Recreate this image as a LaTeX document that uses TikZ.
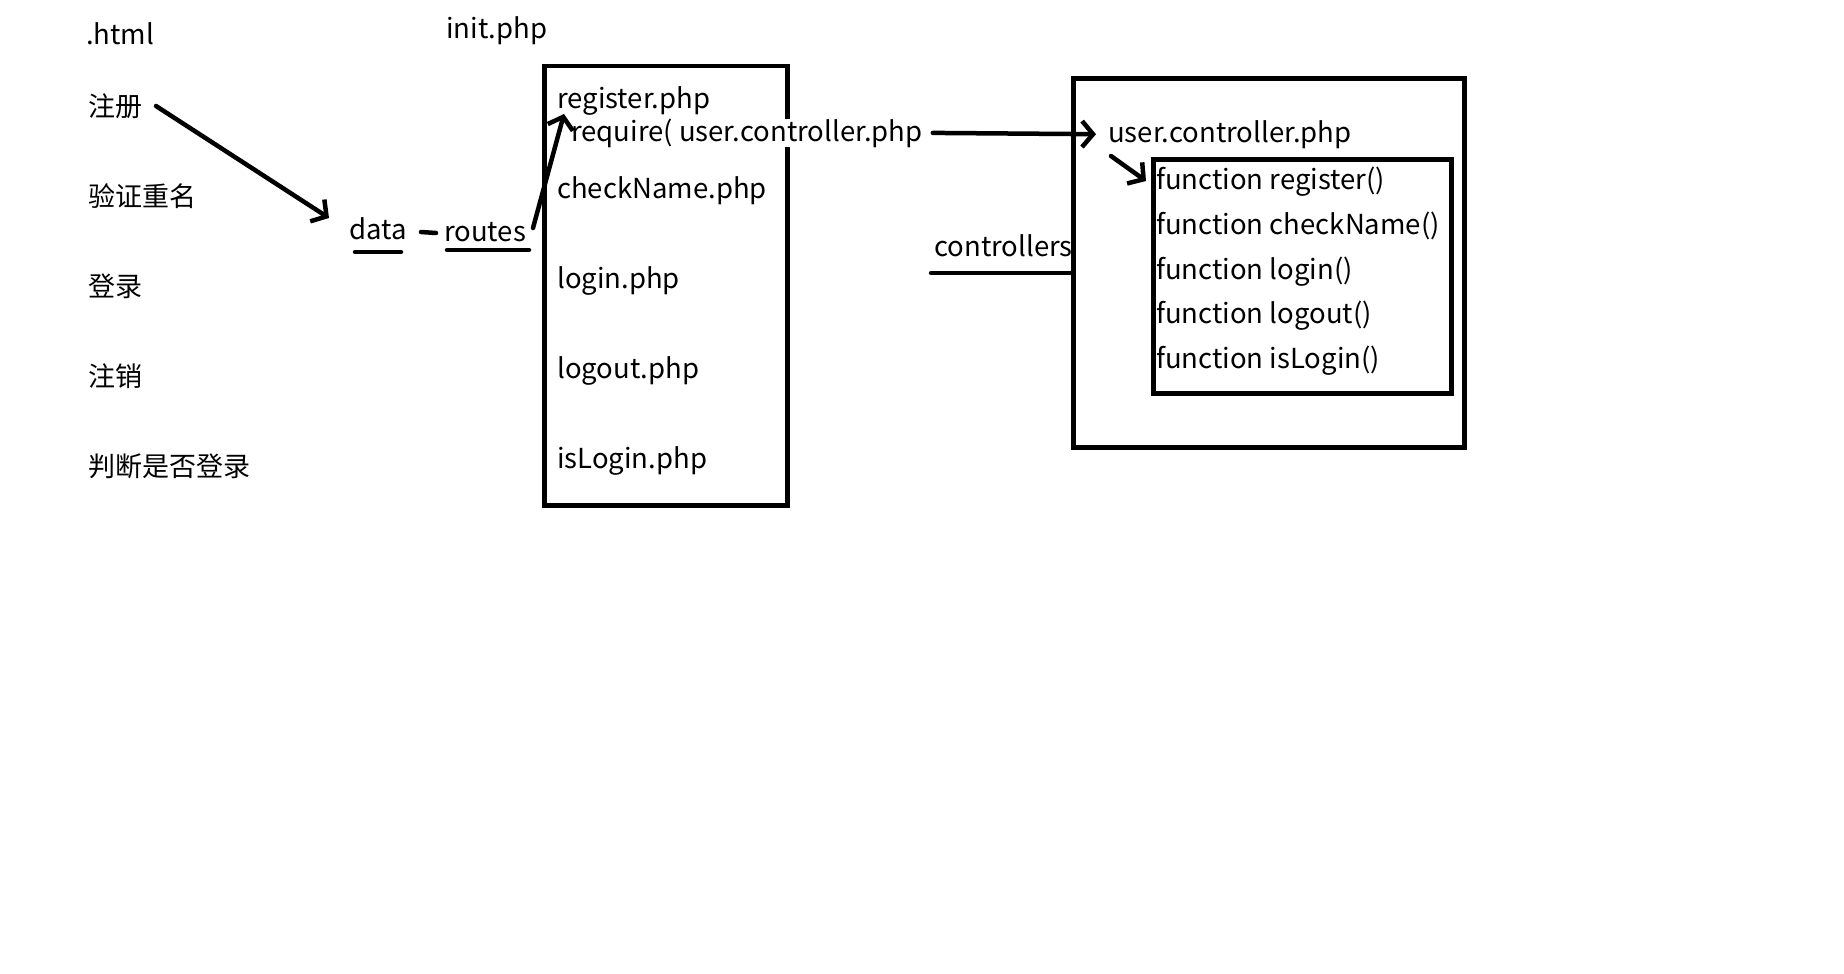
\documentclass[tikz,border=0pt]{standalone}
\usepackage{fontspec}
\setmainfont{Noto Sans CJK SC}
\usetikzlibrary{arrows.meta}
\begin{document}
\begin{tikzpicture}[x=1pt,y=-1pt,
  lbl/.style={anchor=base west, inner sep=0pt, font=\fontsize{27.5}{32}\selectfont},
  zh/.style={anchor=west, inner sep=0pt, font=\fontsize{27}{31}\selectfont},
  box/.style={draw, line width=4.5pt, inner sep=0pt},
  ln/.style={line width=4.5pt, line cap=round},
  arr/.style={ln, -{Straight Barb[length=11pt,width=26pt,line width=4.5pt]}}]
\useasboundingbox[fill=white] (0,0) rectangle (1844,974);

% left column
\node[lbl] (html) at (86,45) {.html};
\node[zh] (zc) at (88,106) {注册};
\node[zh] (yz) at (88,196) {验证重名};
\node[zh] (dl) at (88,286) {登录};
\node[zh] (zx) at (88,376) {注销};
\node[zh] (pd) at (88,466) {判断是否登录};

% data / routes
\node[lbl] (data) at (349,239) {data};
\node[lbl] (routes) at (444,241) {routes};
\coordinate (a1s) at (156,106);
\coordinate (a1e) at (329,218);
\draw[arr] (a1s) -- (a1e);
\coordinate (du1) at (355,252);
\coordinate (du2) at (401,252);
\draw[ln] (du1) -- (du2);
\coordinate (dd1) at (421,232);
\coordinate (dd2) at (436,233);
\draw[ln] (dd1) -- (dd2);
\coordinate (ru1) at (447,250);
\coordinate (ru2) at (529,250);
\draw[ln] (ru1) -- (ru2);

% init box
\node[lbl] (init) at (446,39) {init.php};
\node[box, minimum width=243pt, minimum height=439pt, anchor=north west] (ibox) at (542,64) {};
\node[lbl] (reg) at (557,108) {register.php};
\node[lbl, fill=white] (req) at (571,141) {require( user.controller.php};
\node[lbl] (chk) at (557,198) {checkName.php};
\node[lbl] (lgn) at (557,288) {login.php};
\node[lbl] (lgo) at (557,378) {logout.php};
\node[lbl] (isl) at (557,468) {isLogin.php};
\coordinate (a2s) at (533,228);
\coordinate (a2e) at (564,114);
\draw[arr] (a2s) -- (a2e);

% controller box
\node[box, minimum width=391pt, minimum height=369pt, anchor=north west] (cbox) at (1071,76) {};
\node[box, minimum width=298pt, minimum height=234pt, anchor=north west] (fbox) at (1151,157) {};
\node[lbl] (ucp) at (1108,142) {user.controller.php};
\node[lbl] (f1) at (1156,189) {function register()};
\node[lbl] (f2) at (1156,234) {function checkName()};
\node[lbl] (f3) at (1156,279) {function login()};
\node[lbl] (f4) at (1156,323) {function logout()};
\node[lbl] (f5) at (1156,368) {function isLogin()};
\draw[arr] ([xshift=10pt]req.east) -- ([xshift=-12pt]ucp.west);
\coordinate (a3s) at (1111,156);
\coordinate (a3e) at (1146,181);
\draw[arr] (a3s) -- (a3e);

% controllers
\node[lbl] (ctl) at (934,256) {controllers};
\coordinate (cl1) at (931,273);
\draw[ln] (cl1) -- (cl1 -| cbox.west);
\end{tikzpicture}
\end{document}
